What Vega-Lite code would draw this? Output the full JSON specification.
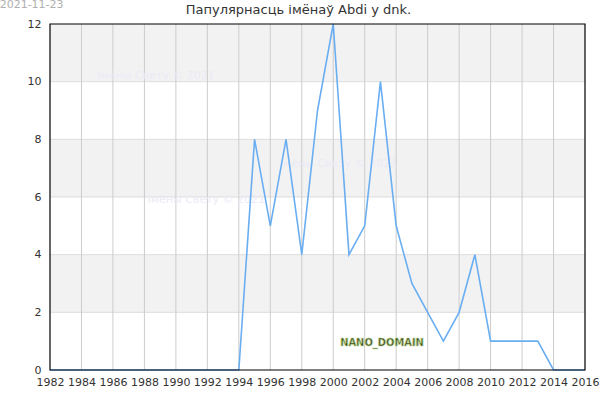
{
  "$schema": "https://vega.github.io/schema/vega-lite/v6.json",
  "width": 535,
  "height": 346,
  "autosize": {"type": "none"},
  "padding": {"left": 50, "top": 24, "right": 15, "bottom": 30},
  "background": "white",
  "title": {
    "text": "Папулярнасць імёнаў Abdi у dnk.",
    "fontSize": 13,
    "fontWeight": "normal",
    "color": "#333333",
    "font": "DejaVu Sans",
    "anchor": "middle",
    "baseline": "alphabetic",
    "dx": -19,
    "dy": 36,
    "offset": 8
  },
  "config": {
    "font": "DejaVu Sans",
    "view": {"stroke": null},
    "axis": {
      "labelFont": "DejaVu Sans",
      "labelFontSize": 11,
      "labelColor": "#333333",
      "ticks": false,
      "domain": false,
      "zindex": 0
    }
  },
  "datasets": {
    "counts": [
      {"year": 1982, "count": 0}, {"year": 1983, "count": 0}, {"year": 1984, "count": 0},
      {"year": 1985, "count": 0}, {"year": 1986, "count": 0}, {"year": 1987, "count": 0},
      {"year": 1988, "count": 0}, {"year": 1989, "count": 0}, {"year": 1990, "count": 0},
      {"year": 1991, "count": 0}, {"year": 1992, "count": 0}, {"year": 1993, "count": 0},
      {"year": 1994, "count": 0}, {"year": 1995, "count": 8}, {"year": 1996, "count": 5},
      {"year": 1997, "count": 8}, {"year": 1998, "count": 4}, {"year": 1999, "count": 9},
      {"year": 2000, "count": 12}, {"year": 2001, "count": 4}, {"year": 2002, "count": 5},
      {"year": 2003, "count": 10}, {"year": 2004, "count": 5}, {"year": 2005, "count": 3},
      {"year": 2006, "count": 2}, {"year": 2007, "count": 1}, {"year": 2008, "count": 2},
      {"year": 2009, "count": 4}, {"year": 2010, "count": 1}, {"year": 2011, "count": 1},
      {"year": 2012, "count": 1}, {"year": 2013, "count": 1}, {"year": 2014, "count": 0},
      {"year": 2015, "count": 0}, {"year": 2016, "count": 0}
    ],
    "bands": [
      {"from": 2, "to": 4},
      {"from": 6, "to": 8},
      {"from": 10, "to": 12}
    ],
    "hgrid": [
      {"at": 2}, {"at": 4}, {"at": 6}, {"at": 8}, {"at": 10}
    ],
    "vgrid": [
      {"year": 1984}, {"year": 1986}, {"year": 1988}, {"year": 1990}, {"year": 1992},
      {"year": 1994}, {"year": 1996}, {"year": 1998}, {"year": 2000}, {"year": 2002},
      {"year": 2004}, {"year": 2006}, {"year": 2008}, {"year": 2010}, {"year": 2012},
      {"year": 2014}
    ],
    "watermarks": [
      {"year": 1985, "count": 10.2, "label": "Імёны Свету © 2021"},
      {"year": 1996.6, "count": 7.15, "label": "Імёны Свету © 2021"},
      {"year": 1988.2, "count": 5.9, "label": "Імёны Свету © 2021"}
    ],
    "nano": [
      {"year": 2003.1, "count": 0.92, "label": "NANO_DOMAIN"}
    ],
    "stamp": [
      {"year": 1978.8, "count": 12.66, "label": "2021-11-23"}
    ]
  },
  "encoding": {
    "x": {
      "type": "quantitative",
      "scale": {"domain": [1982, 2016], "nice": false, "zero": false},
      "axis": {
        "title": null,
        "values": [1982, 1984, 1986, 1988, 1990, 1992, 1994, 1996, 1998, 2000, 2002, 2004, 2006, 2008, 2010, 2012, 2014, 2016],
        "format": "d",
        "grid": false,
        "labelPadding": 6,
        "labelFlush": false,
        "labelOverlap": false
      }
    },
    "y": {
      "type": "quantitative",
      "scale": {"domain": [0, 12], "nice": false},
      "axis": {
        "title": null,
        "values": [0, 2, 4, 6, 8, 10, 12],
        "grid": false,
        "labelPadding": 9
      }
    }
  },
  "layer": [
    {
      "data": {"name": "bands"},
      "mark": {"type": "rect", "color": "#f2f2f2"},
      "encoding": {
        "x": {"datum": 1982, "type": "quantitative"},
        "x2": {"datum": 2016},
        "y": {"field": "from", "type": "quantitative"},
        "y2": {"field": "to"}
      }
    },
    {
      "data": {"name": "hgrid"},
      "mark": {"type": "rule", "color": "#dddddd", "strokeWidth": 1},
      "encoding": {
        "y": {"field": "at", "type": "quantitative"}
      }
    },
    {
      "data": {"name": "vgrid"},
      "mark": {"type": "rule", "color": "#cccccc", "strokeWidth": 1},
      "encoding": {
        "x": {"field": "year", "type": "quantitative"}
      }
    },
    {
      "data": {"name": "watermarks"},
      "mark": {"type": "text", "align": "left", "baseline": "middle", "fontSize": 11, "color": "#ebebf7"},
      "encoding": {
        "x": {"field": "year", "type": "quantitative"},
        "y": {"field": "count", "type": "quantitative"},
        "text": {"field": "label"}
      }
    },
    {
      "data": {"name": "counts"},
      "mark": {"type": "line", "color": "#6aaef2", "strokeWidth": 1.6},
      "encoding": {
        "x": {"field": "year", "type": "quantitative"},
        "y": {"field": "count", "type": "quantitative"}
      }
    },
    {
      "data": {"name": "nano"},
      "mark": {"type": "text", "align": "center", "baseline": "middle", "font": "DejaVu Sans Condensed", "fontSize": 11, "fontWeight": "bold", "color": "#3d4a1c", "stroke": "#b9d38f", "strokeWidth": 0.7},
      "encoding": {
        "x": {"field": "year", "type": "quantitative"},
        "y": {"field": "count", "type": "quantitative"},
        "text": {"field": "label"}
      }
    },
    {
      "data": {"name": "stamp"},
      "mark": {"type": "text", "align": "left", "baseline": "middle", "fontSize": 11, "color": "#b0b0b0"},
      "encoding": {
        "x": {"field": "year", "type": "quantitative"},
        "y": {"field": "count", "type": "quantitative"},
        "text": {"field": "label"}
      }
    },
    {
      "data": {"values": [{"a": 1982, "b": 2016, "lo": 0, "hi": 12}]},
      "mark": {"type": "rect", "fill": null, "fillOpacity": 0, "stroke": "#000000", "strokeWidth": 1.2},
      "encoding": {
        "x": {"field": "a", "type": "quantitative"},
        "x2": {"field": "b"},
        "y": {"field": "lo", "type": "quantitative"},
        "y2": {"field": "hi"}
      }
    }
  ]
}
